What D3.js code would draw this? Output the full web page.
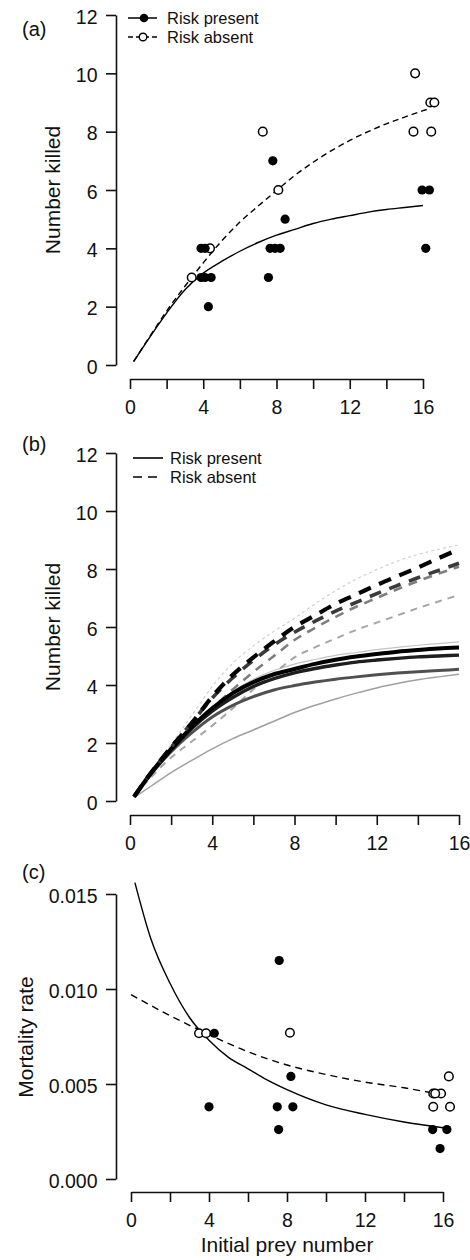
<!DOCTYPE html>
<html><head><meta charset="utf-8">
<script src="https://cdn.jsdelivr.net/npm/d3@7"></script>
<style>body{margin:0;background:#fff}svg{display:block;font-family:"Liberation Sans",Arial,sans-serif}</style>
</head><body>
<svg id="chart" width="470" height="1260"></svg>
<script>
// ---------- Panel (a) data ----------
const aPresentX = [3.88,4.1,3.88,4.1,4.43,4.28,7.56,7.65,7.92,8.2,7.8,8.47,15.95,16.35,16.15];
const aPresentY = [4,4,3,3,3,2,3,4,4,4,7,5,6,6,4];
const aAbsentX = [3.37,4.37,7.25,8.1,15.57,16.4,16.62,15.48,16.45];
const aAbsentY = [3,4,8,6,10,9,9,8,8];
const aFitPresentX = [0.2,1,2,3,4,5,6,7,8,9,10,11,12,13,14,15,16];
const aFitPresentY = [0.12,0.88,1.78,2.58,3.15,3.55,3.9,4.2,4.45,4.65,4.85,5.0,5.12,5.24,5.33,5.4,5.47];
const aFitAbsentX = [0.2,1,2,3,4,5,6,7,8,9,10,11,12,13,14,15,16,16.3];
const aFitAbsentY = [0.12,0.9,1.85,2.7,3.5,4.25,4.9,5.45,5.98,6.5,6.95,7.35,7.7,8.0,8.27,8.5,8.72,8.78];

// ---------- Panel (b) data (alternative fitted curves) ----------
const bFitX = [0.2,1,2,3,4,5,6,7,8,9,10,11,12,13,14,15,16];
const bPresentLightTop = [0.15,0.98,1.85,2.6,3.25,3.78,4.2,4.5,4.72,4.88,5.02,5.12,5.22,5.3,5.37,5.43,5.49];
const bPresentBlack = [0.15,0.95,1.8,2.55,3.2,3.72,4.1,4.37,4.55,4.73,4.87,4.98,5.07,5.15,5.21,5.26,5.29];
const bPresentBlack2 = [0.15,0.93,1.75,2.5,3.1,3.57,3.95,4.22,4.42,4.57,4.69,4.79,4.86,4.92,4.97,5.0,5.03];
const bPresentDark = [0.15,0.9,1.7,2.35,2.9,3.3,3.6,3.83,3.98,4.1,4.2,4.28,4.35,4.41,4.46,4.5,4.54];
const bPresentLight = [0.12,0.5,0.98,1.4,1.8,2.15,2.45,2.75,3.05,3.3,3.52,3.72,3.9,4.05,4.18,4.28,4.37];
const bAbsentLightTop = [0.15,1.0,1.95,2.95,3.95,4.75,5.35,5.85,6.3,6.8,7.25,7.65,7.98,8.27,8.5,8.68,8.83];
const bAbsentBlack = [0.15,0.95,1.85,2.68,3.6,4.35,4.95,5.5,6.0,6.4,6.8,7.12,7.45,7.75,8.05,8.37,8.68];
const bAbsentDark = [0.15,0.95,1.85,2.7,3.55,4.25,4.85,5.38,5.82,6.2,6.55,6.85,7.15,7.43,7.7,7.95,8.2];
const bAbsentGray = [0.15,0.9,1.75,2.5,3.2,3.85,4.45,5.0,5.55,5.97,6.35,6.7,7.0,7.3,7.58,7.84,8.08];
const bAbsentLight = [0.15,0.8,1.5,2.05,2.6,3.2,3.85,4.4,4.95,5.3,5.6,5.9,6.15,6.4,6.65,6.88,7.1];

// ---------- Panel (c) data ----------
const cPresentX = [4.27,4.0,7.6,7.5,7.57,8.2,8.3,15.47,16.2,15.85];
const cPresentY = [0.00767,0.0038,0.0115,0.0038,0.0026,0.0054,0.0038,0.0026,0.0026,0.0016];
const cAbsentX = [3.49,3.85,8.15,16.3,15.5,15.9,15.6,15.5,16.36];
const cAbsentY = [0.00767,0.00767,0.0077,0.0054,0.0045,0.0045,0.0045,0.0038,0.0038];
const cFitPresentX = [0.2,1,2,3,4,5,6,7,8,10,12,14,16];
const cFitPresentY = [0.0156,0.0127,0.0103,0.0085,0.0073,0.0064,0.0058,0.0052,0.0047,0.0039,0.0034,0.0030,0.0027];
const cFitAbsentX = [0,2,4,6,8,10,12,14,15.6];
const cFitAbsentY = [0.0097,0.0086,0.0076,0.0067,0.0060,0.0055,0.0051,0.0048,0.0045];

// ---------- Tick labels ----------
const xTicks = [0,2,4,6,8,10,12,14,16];
const xTickLabels = [0,4,8,12,16];
const yTicksN = [0,2,4,6,8,10,12];
const yTicksM = [0,0.005,0.010,0.015];

const svg = d3.select("#chart");
svg.append("rect").attr("width",470).attr("height",1260).attr("fill","#fff");

function zip(xs, ys){ return xs.map((x,i)=>[x, ys[i]]); }

function drawAxes(g, x, y, yTicks, yFmt, axisX, axisY){
  const ya = g.append("g").attr("transform",`translate(${axisX},0)`)
    .call(d3.axisLeft(y).tickValues(yTicks).tickSize(10).tickSizeOuter(0).tickPadding(8.5).tickFormat(yFmt));
  const xa = g.append("g").attr("transform",`translate(0,${axisY})`)
    .call(d3.axisBottom(x).tickValues(xTicks).tickSize(10).tickSizeOuter(0).tickPadding(11.5)
      .tickFormat(d => xTickLabels.includes(d) ? d : ""));
  [ya, xa].forEach(a=>{
    a.select(".domain").attr("stroke","#111").attr("stroke-width",1.6);
    a.selectAll(".tick line").attr("stroke","#111").attr("stroke-width",1.6);
    a.selectAll(".tick text").attr("fill","#111").attr("font-size",19.5).attr("font-family",'"Liberation Sans",Arial,sans-serif');
  });
  ya.selectAll(".tick text").attr("dy","0.42em");
}

function curve(g, x, y, xs, ys, color, width, dash){
  g.append("path").datum(zip(xs, ys))
    .attr("fill","none").attr("stroke",color).attr("stroke-width",width)
    .attr("stroke-dasharray",dash || null).attr("stroke-linecap","butt")
    .attr("d", d3.line().x(d=>x(d[0])).y(d=>y(d[1])).curve(d3.curveMonotoneX));
}

function points(g, x, y, xs, ys, filled){
  g.selectAll(null).data(zip(xs, ys)).enter().append("circle")
    .attr("cx", d=>x(d[0])).attr("cy", d=>y(d[1])).attr("r", filled?4.6:4.3)
    .attr("fill", filled ? "#000" : "#fff").attr("stroke","#000").attr("stroke-width", filled?0:1.5);
}

function label(txt, xx, yy, size, anchor, rot){
  const t = svg.append("text").text(txt).attr("font-size",size).attr("fill","#111")
    .attr("text-anchor",anchor||"start");
  if(rot) t.attr("transform",`translate(${xx},${yy}) rotate(-90)`);
  else t.attr("x",xx).attr("y",yy);
  return t;
}

// ---------- Panel (a) ----------
{
  const g = svg.append("g");
  const x = d3.scaleLinear().domain([0,16]).range([130,423]);
  const y = d3.scaleLinear().domain([0,12]).range([365,15]);
  drawAxes(g, x, y, yTicksN, d=>d, 116, 379);
  curve(g, x, y, aFitPresentX, aFitPresentY, "#000", 1.4);
  curve(g, x, y, aFitAbsentX, aFitAbsentY, "#000", 1.4, "6,4");
  points(g, x, y, aAbsentX, aAbsentY, false);
  points(g, x, y, aPresentX, aPresentY, true);
  // legend
  g.append("line").attr("x1",128).attr("x2",157).attr("y1",18).attr("y2",18).attr("stroke","#000").attr("stroke-width",1.5);
  g.append("circle").attr("cx",144).attr("cy",18).attr("r",4.3).attr("fill","#000");
  g.append("line").attr("x1",128).attr("x2",157).attr("y1",37).attr("y2",37).attr("stroke","#000").attr("stroke-width",1.5).attr("stroke-dasharray","5,3");
  g.append("circle").attr("cx",143).attr("cy",37).attr("r",3.8).attr("fill","#fff").attr("stroke","#000").attr("stroke-width",1.4);
  label("Risk present",167,24,16.5);
  label("Risk absent",167,43,16.5);
  label("(a)",22,36,20);
  label("Number killed",60,190,21,"middle",true);
}

// ---------- Panel (b) ----------
{
  const g = svg.append("g");
  const x = d3.scaleLinear().domain([0,16]).range([130,459]);
  const y = d3.scaleLinear().domain([0,12]).range([801,453]);
  drawAxes(g, x, y, yTicksN, d=>d, 116, 815);
  curve(g, x, y, bFitX, bPresentLightTop, "#c4c4c4", 1.2);
  curve(g, x, y, bFitX, bPresentLight, "#a0a0a0", 1.5);
  curve(g, x, y, bFitX, bAbsentLightTop, "#cccccc", 1.1, "3,3");
  curve(g, x, y, bFitX, bAbsentLight, "#a6a6a6", 2, "7,6");
  curve(g, x, y, bFitX, bAbsentGray, "#7e7e7e", 2.6, "9,7");
  curve(g, x, y, bFitX, bPresentDark, "#505050", 3);
  curve(g, x, y, bFitX, bPresentBlack2, "#1e1e1e", 3.4);
  curve(g, x, y, bFitX, bPresentBlack, "#000", 4);
  curve(g, x, y, bFitX, bAbsentDark, "#3a3a3a", 3.6, "12,9");
  curve(g, x, y, bFitX, bAbsentBlack, "#050505", 4.2, "13,9");
  // legend
  g.append("line").attr("x1",133).attr("x2",163).attr("y1",458).attr("y2",458).attr("stroke","#000").attr("stroke-width",1.6);
  g.append("line").attr("x1",133).attr("x2",163).attr("y1",477).attr("y2",477).attr("stroke","#000").attr("stroke-width",1.6).attr("stroke-dasharray","9,6");
  label("Risk present",170,464,16.5);
  label("Risk absent",170,483,16.5);
  label("(b)",22,451,20);
  label("Number killed",60,627,21,"middle",true);
}

// ---------- Panel (c) ----------
{
  const g = svg.append("g");
  const x = d3.scaleLinear().domain([0,16]).range([131,443]);
  const y = d3.scaleLinear().domain([0,0.015]).range([1179,894]);
  drawAxes(g, x, y, yTicksM, d3.format(".3f"), 116, 1192);
  curve(g, x, y, cFitPresentX, cFitPresentY, "#000", 1.4);
  curve(g, x, y, cFitAbsentX, cFitAbsentY, "#000", 1.4, "7,5");
  points(g, x, y, cAbsentX, cAbsentY, false);
  points(g, x, y, cPresentX, cPresentY, true);
  label("(c)",22,879,20);
  label("Mortality rate",33,1037,21,"middle",true);
  label("Initial prey number",287,1252,21,"middle");
}
</script>
</body></html>
